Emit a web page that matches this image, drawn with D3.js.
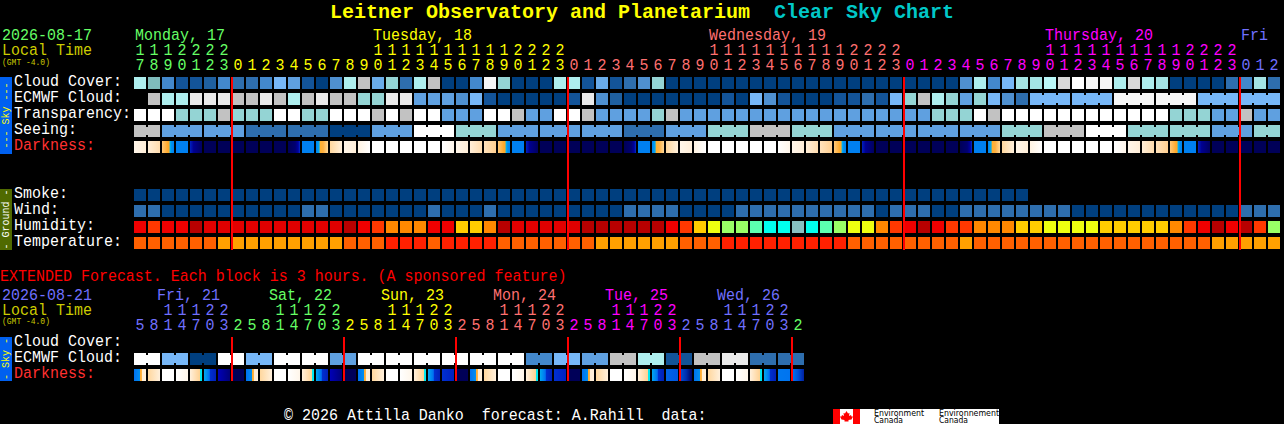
<!doctype html>
<html>
<head>
<meta charset="utf-8">
<script src="https://d3js.org/d3.v7.min.js"></script>
<style>
html, body { margin: 0; padding: 0; background: #000; overflow: hidden; }
svg { display: block; }
text { font-family: "Liberation Mono", monospace; font-size: 15px; fill: #fff; white-space: pre; }
</style>
</head>
<body>
<svg width="1284" height="424"></svg>

<script>
// hours along the top, one per block
var hours = [17,18,19,20,21,22,23,
  0,1,2,3,4,5,6,7,8,9,10,11,12,13,14,15,16,17,18,19,20,21,22,23,
  0,1,2,3,4,5,6,7,8,9,10,11,12,13,14,15,16,17,18,19,20,21,22,23,
  0,1,2,3,4,5,6,7,8,9,10,11,12,13,14,15,16,17,18,19,20,21,22,23,
  0,1,2];
var days = ["Monday, 17","Tuesday, 18","Wednesday, 19","Thursday, 20","Fri"];
var dayStartCol = [0,7,31,55,79];
var dayLabelCol = [0,17,41,65,79];
var dayColors = ["#66ff66","#ffff00","#ff7070","#ff00ff","#7070ff"];

// extended forecast, 3 hour blocks
var extHours = [5,8,11,14,17,20,23,
  2,5,8,11,14,17,20,23, 2,5,8,11,14,17,20,23, 2,5,8,11,14,17,20,23,
  2,5,8,11,14,17,20,23, 2,5,8,11,14,17,20,23, 2];
var extDays = ["Fri, 21","Sat, 22","Sun, 23","Mon, 24","Tue, 25","Wed, 26"];
var extDayStartCol = [0,7,15,23,31,39,47];
var extDayLabelCol = [2,10,18,26,34,42];
var extDayColors = ["#7070ff","#66ff66","#ffff00","#ff7070","#ff00ff","#7070ff","#66ff66"];

// cloud cover in percent, null = no forecast
var cloudCover = [70,55,30,10,10,15,30,20,20,30,50,40,10,0,35,70,80,45,60,20,70,80,
  0,0,30,95,60,0,0,0,70,70,10,45,10,20,35,60,
  0,0,0,0,0,0,0,0,0,0,0,0,0,0,0,0,0,0,0,0,0,
  35,70,30,50,65,65,75,85,100,95,95,70,85,70,65,0,0,0,0,20,30,65,20];
var ecmwfCloud = [null,80,70,70,90,90,90,80,80,90,80,70,80,90,80,80,60,60,90,90,40,40,
  40,35,50,10,0,0,0,0,0,10,90,35,15,0,0,0,0,0,0,0,10,0,50,35,10,0,0,0,10,10,
  20,10,50,60,80,70,60,40,60,50,35,20,
  50,50,50,50,50,50,95,95,95,95,95,95,50,50,50,50,50,50];
// 1 excellent .. 5 bad, 6 too cloudy
var transparency = [6,6,6,4,4,4,5,4,4,4,6,6,4,4,6,6,6,5,6,5,6,6,
  3,3,3,6,6,5,3,3,6,6,5,3,3,3,3,4,5,
  3,3,3,3,3,3,3,3,3,3,3,3,3,3,3,3,3,3,
  4,4,4,6,5,6,6,6,6,6,6,6,6,6,6,6,6,4,4,4,3,3,5,3,3];
var seeing = [5,5,3,3,3,3,3,3,2,2,2,2,2,2,1,1,1,3,3,3,6,6,6,
  4,4,4,3,3,3,3,3,3,3,3,3,2,2,2,3,3,3,4,4,4,5,5,5,4,4,4,
  3,3,3,3,3,3,3,3,3,3,3,3,4,4,4,5,5,5,6,6,6,4,4,4,4,4,4,3,3,3,4,4];
var darkness = ["c","ct","S","B","Bn","N","N","N","N","N","N","Nb","B","D","Tc","c","Cw","W","W","W","W","W",
  "Wc","c","ct","t","S","B","Bn","N","N","N","N","N","N","Nb","B","D","Tc","c","Cw","W","W","W","W","W",
  "Wc","c","ct","t","S","B","Bn","N","N","N","N","N","N","Nb","B","D","Tc","c","Cw","W","W","W","W","W",
  "Wc","c","ct","t","S","B","Bn","N","N","N","N","N"];

// smoke forecast stops at 64 hours
var smoke = [0,0,0,0,0,0,0,0,0,0,0,0,0,0,0,0,0,0,0,0,0,0,0,0,0,0,0,0,0,0,0,0,
  0,0,0,0,0,0,0,0,0,0,0,0,0,0,0,0,0,0,0,0,0,0,0,0,0,0,0,0,0,0,0,0];
// mph band
var wind = [8,8,3,3,3,3,3,3,3,3,3,3,8,8,3,3,3,3,3,3,3,8,3,3,3,8,3,3,3,3,3,3,3,3,3,
  8,8,8,8,3,3,3,3,8,8,8,8,8,8,8,8,8,8,3,8,8,8,3,3,8,8,8,8,8,8,8,8,
  3,3,3,3,3,3,3,3,3,3,3,3,8,8,8];
// humidity percent band
var humidity = [87,82,87,87,97,92,92,92,92,92,92,92,92,92,92,97,87,82,77,77,77,87,87,
  72,72,77,97,92,92,92,92,92,97,97,97,97,97,97,87,82,72,67,62,62,57,52,52,47,52,57,62,67,
  67,77,82,87,97,87,82,82,77,77,77,72,72,67,67,67,67,72,72,72,72,72,77,82,87,97,87,97,82,62];
// temperature band, C
var temperature = [27,27,27,27,27,27,21,21,21,21,21,21,21,21,21,27,27,27,32,32,32,27,
  32,32,32,32,27,27,27,27,27,27,27,21,21,21,21,21,21,27,27,27,
  32,32,32,32,32,32,32,32,32,27,27,27,27,27,27,27,27,21,
  27,27,27,27,27,27,27,27,27,27,27,27,27,27,27,27,27,21,21,21,21,21];

var extEcmwf = [100,100,50,50,0,0,100,100,50,50,100,100,100,100,40,40,100,100,100,100,100,100,100,100,
  100,100,100,100,30,30,50,50,40,40,80,80,70,70,10,10,80,80,90,90,20,20,20,20];
var extDarkness = ["a","Tc","W","Wc","e","f","g","N",
  "a","Tc","W","Wc","e","f","g","N",
  "a","Tc","W","Wc","e","f","h","N",
  "a","Tc","W","Wc","e","f","h","N",
  "a","Tc","W","Wc","e","f","i","j",
  "a","Tc","W","Wc","e","f","k","l"];

// columns of the midnight markers
var midnightCols = [7,31,55,79];
var extMidnightCols = [7,15,23,31,39,47];

var cloudColor = d3.scaleOrdinal()
  .domain([0,10,15,20,30,35,40,45,50,55,60,65,70,75,80,85,90,95,100])
  .range(["#003f7f","#135499","#1f60a0","#2e6eae","#4388cc","#4f90d0","#5fa0e0","#6aacea","#77b7f7","#7fbdbd",
    "#94d4d4","#a4e4e4","#aeeeee","#baf8f8","#c2c2c2","#d8d8d8","#eaeaea","#f6f6f6","#ffffff"]);
var skyColor = d3.scaleOrdinal().domain([1,2,3,4,5,6])
  .range(["#003f7f","#2e6eae","#5fa0e0","#94d4d4","#c2c2c2","#ffffff"]);
var smokeColor = d3.scaleOrdinal().domain([0]).range(["#003f7f"]);
var windColor = d3.scaleOrdinal().domain([3,8]).range(["#003f7f","#2e6eae"]);
var humidityColor = d3.scaleOrdinal().domain([97,92,87,82,77,72,67,62,57,52,47])
  .range(["#b80000","#e00000","#f00000","#ff3800","#ff8800","#ffcc00","#eeff10","#99ff66","#5cffb0","#00ffee","#88c0c0"]);
var tempColor = d3.scaleOrdinal().domain([21,27,32]).range(["#ffa000","#ff6000","#ff2000"]);

// darkness blocks are little gradients, keyed by code
var darkStops = {
  W: [[0,"#ffffff"],[1,"#ffffff"]],
  Wc: [[0,"#ffffff"],[1,"#fff6ea"]],
  Cw: [[0,"#fff3e2"],[1,"#ffffff"]],
  c: [[0,"#fff6ea"],[1,"#ffeed8"]],
  ct: [[0,"#ffeed8"],[1,"#ffdcae"]],
  t: [[0,"#ffe2bc"],[1,"#ffcf90"]],
  Tc: [[0,"#ffd79e"],[1,"#fff0dc"]],
  S: [[0,"#ffc878"],[.5,"#ffa828"],[.6,"#ffa828"],[.66,"#00b8f0"],[.8,"#0090f0"],[1,"#0080f0"]],
  D: [[0,"#0080f0"],[.25,"#00a8f0"],[.36,"#ffb030"],[.6,"#ffb040"],[1,"#ffd898"]],
  B: [[0,"#0080f0"],[1,"#0080f0"]],
  Bn: [[0,"#0020c0"],[.3,"#000090"],[1,"#000060"]],
  N: [[0,"#000058"],[1,"#000058"]],
  Nb: [[0,"#000058"],[.6,"#000070"],[.85,"#0000a0"],[1,"#0030c8"]],
  a: [[0,"#0070f0"],[.5,"#0090f0"],[.5,"#ffa830"],[.67,"#ffb848"],[.67,"#ffecd4"],[1,"#fff0dc"]],
  e: [[0,"#fff0dc"],[.8,"#ffd294"],[.84,"#00e8f0"],[1,"#00e8f0"]],
  f: [[0,"#00a8f0"],[.2,"#0090f0"],[.45,"#0070f0"],[.5,"#0030d0"],[1,"#0020b8"]],
  g: [[0,"#0000b8"],[1,"#000078"]],
  h: [[0,"#0030d0"],[1,"#0020c0"]],
  i: [[0,"#0064e8"],[1,"#0058e0"]],
  j: [[0,"#0050d8"],[.5,"#0030b0"],[1,"#000060"]],
  k: [[0,"#0078f0"],[1,"#0074f0"]],
  l: [[0,"#0078f0"],[.5,"#0050d8"],[1,"#0020a0"]]
};

var svg = d3.select("svg");
var defs = svg.append("defs");
Object.keys(darkStops).forEach(function(k) {
  var g = defs.append("linearGradient").attr("id", "dark-" + k);
  g.selectAll("stop").data(darkStops[k]).enter().append("stop")
    .attr("offset", d => d[0]).attr("stop-color", d => d[1]);
});

var x = d3.scaleLinear().domain([0,82]).range([134,1282]);
var cellW = 12, cellH = 12;

// one row of blocks. link = [first col, block size, offset] joins blocks with a neck
function row(values, y, color, link) {
  var g = svg.append("g").attr("shape-rendering", "crispEdges");
  var cells = values.map((v, i) => ({v: v, i: i})).filter(d => d.v !== null);
  g.selectAll("rect.cell").data(cells).enter().append("rect")
    .attr("class", "cell")
    .attr("x", d => x(d.i)).attr("y", y)
    .attr("width", cellW).attr("height", cellH)
    .attr("fill", d => color(d.v));
  if (!link) return;
  var necks = cells.filter(d => d.i >= link[0] && d.i < values.length - 1 && (d.i - link[2] + 1) % link[1] !== 0);
  g.selectAll("rect.neck").data(necks).enter().append("rect")
    .attr("class", "neck")
    .attr("x", d => x(d.i) + cellW).attr("y", y + 2)
    .attr("width", x(1) - x(0) - cellW).attr("height", cellH - 4)
    .attr("fill", d => color(d.v));
}
var darkFill = d => "url(#dark-" + d + ")";

row(cloudCover, 77, cloudColor);
row(ecmwfCloud, 93, cloudColor, [64,3,1]);
row(transparency, 109, skyColor);
row(seeing, 125, skyColor, [0,3,2]);
row(darkness, 141, darkFill);
row(smoke, 189, smokeColor);
row(wind, 205, windColor);
row(humidity, 221, humidityColor);
row(temperature, 237, tempColor);
row(extEcmwf, 353, cloudColor, [0,2,0]);
row(extDarkness, 369, darkFill);

// red midnight lines
function redLines(cols, y0, y1) {
  svg.append("g").attr("shape-rendering", "crispEdges")
    .selectAll("rect").data(cols).enter().append("rect")
    .attr("x", d => x(d) - 1).attr("y", y0)
    .attr("width", 2).attr("height", y1 - y0).attr("fill", "#ff0000");
}
redLines(midnightCols, 77, 250);
redLines(extMidnightCols, 337, 381);

// title
svg.append("text").attr("x", 330).attr("y", 18)
  .style("font-size", "20px").style("font-weight", "bold")
  .call(t => {
    t.append("tspan").style("fill", "#ffff00").text("Leitner Observatory and Planetarium  ");
    t.append("tspan").style("fill", "#00c8c8").text("Clear Sky Chart");
  });

// the glyphs are a bit taller than the font's own at this width
var tall = "scale(1,1.12)";
function label(str, px, py, color, size, g) {
  return (g || svg).append("text").attr("transform", "translate(" + px + "," + py + ")" + tall)
    .style("fill", color || "#fff").style("font-size", (size || 15) + "px").text(str);
}

// hour digits and day names
function hourHeader(hrs, starts, labels, labelCols, colors, labelShift, yDay, yTens, yOnes) {
  var colorOf = function(i) { return colors[d3.bisectRight(starts, i) - 1]; };
  var g = svg.append("g").attr("text-anchor", "middle");
  hrs.forEach(function(h, i) {
    label(h % 10, x(i) + cellW / 2, yOnes, colorOf(i), 15, g);
    if (h >= 10) label(Math.floor(h / 10), x(i) + cellW / 2, yTens, colorOf(i), 15, g);
  });
  labels.forEach(function(d, i) {
    label(d, x(labelCols[i]) + labelShift, yDay, colors[i]);
  });
}
hourHeader(hours, dayStartCol, days, dayLabelCol, dayColors, 1, 40, 55, 70);
hourHeader(extHours, extDayStartCol, extDays, extDayLabelCol, extDayColors, -5, 300, 315, 330);

label("2026-08-17", 2, 40, "#66ff66");
label("Local Time", 2, 55, "#cccc00");
label("(GMT -4.0)", 2, 65, "#cccc00", 8);

var rowNames = [["Cloud Cover:",86],["ECMWF Cloud:",102],["Transparency:",118],["Seeing:",134],["Darkness:",150,"#ff3030"],
  ["Smoke:",198],["Wind:",214],["Humidity:",230],["Temperature:",246],
  ["Cloud Cover:",346],["ECMWF Cloud:",362],["Darkness:",378,"#ff3030"]];
rowNames.forEach(d => label(d[0], 14, d[1], d[2]));

label("EXTENDED Forecast. Each block is 3 hours. (A sponsored feature)", 0, 281, "#ff0000");
label("2026-08-21", 2, 300, "#7070ff");
label("Local Time", 2, 315, "#cccc00");
label("(GMT -4.0)", 2, 324, "#cccc00", 8);

// side tabs with rotated names
function sideTab(str, y0, y1, bg, fg) {
  svg.append("rect").attr("x", 0).attr("y", y0).attr("width", 12).attr("height", y1 - y0)
    .attr("fill", bg).attr("shape-rendering", "crispEdges");
  svg.append("text").attr("transform", "translate(9," + ((y0 + y1) / 2) + ")rotate(-90)")
    .attr("text-anchor", "middle").style("fill", fg).style("font-size", "10px").text(str);
}
sideTab("--- Sky ---", 77, 154, "#0060f0", "#ffff00");
sideTab("- Ground -", 189, 250, "#506a00", "#ffffff");
sideTab("- Sky -", 337, 381, "#0060f0", "#ffff00");

// footer and the data credit
label("\u00a9 2026 Attilla Danko  forecast: A.Rahill  data:", 284, 420, "#fff");

var logo = svg.append("g");
logo.append("rect").attr("x", 833).attr("y", 409).attr("width", 166).attr("height", 15).attr("fill", "#fff");
logo.append("rect").attr("x", 833).attr("y", 409).attr("width", 7).attr("height", 15).attr("fill", "#ff0000");
logo.append("rect").attr("x", 853).attr("y", 409).attr("width", 7).attr("height", 15).attr("fill", "#ff0000");
logo.append("path").attr("fill", "#ff0000")
  .attr("d", "M846.5 411l1.5 2.5 1.5-.5-.5 3 2-1 .5 1.5 1.5 0-1.5 3-3 .5 0 1.5-4 0 0-1.5-3-.5-1.5-3 1.5 0 .5-1.5 2 1-.5-3 1.5.5z");
[["Environment",874,415.5,50],["Canada",874,423,29],["Environnement",939,415.5,60],["Canada",939,423,29]].forEach(function(d) {
  logo.append("text").attr("x", d[1]).attr("y", d[2]).attr("textLength", d[3]).attr("lengthAdjust", "spacingAndGlyphs")
    .style("fill", "#000").style("font-family", "'DejaVu Sans', sans-serif").style("font-size", "8px").text(d[0]);
});
</script>
</body>
</html>
